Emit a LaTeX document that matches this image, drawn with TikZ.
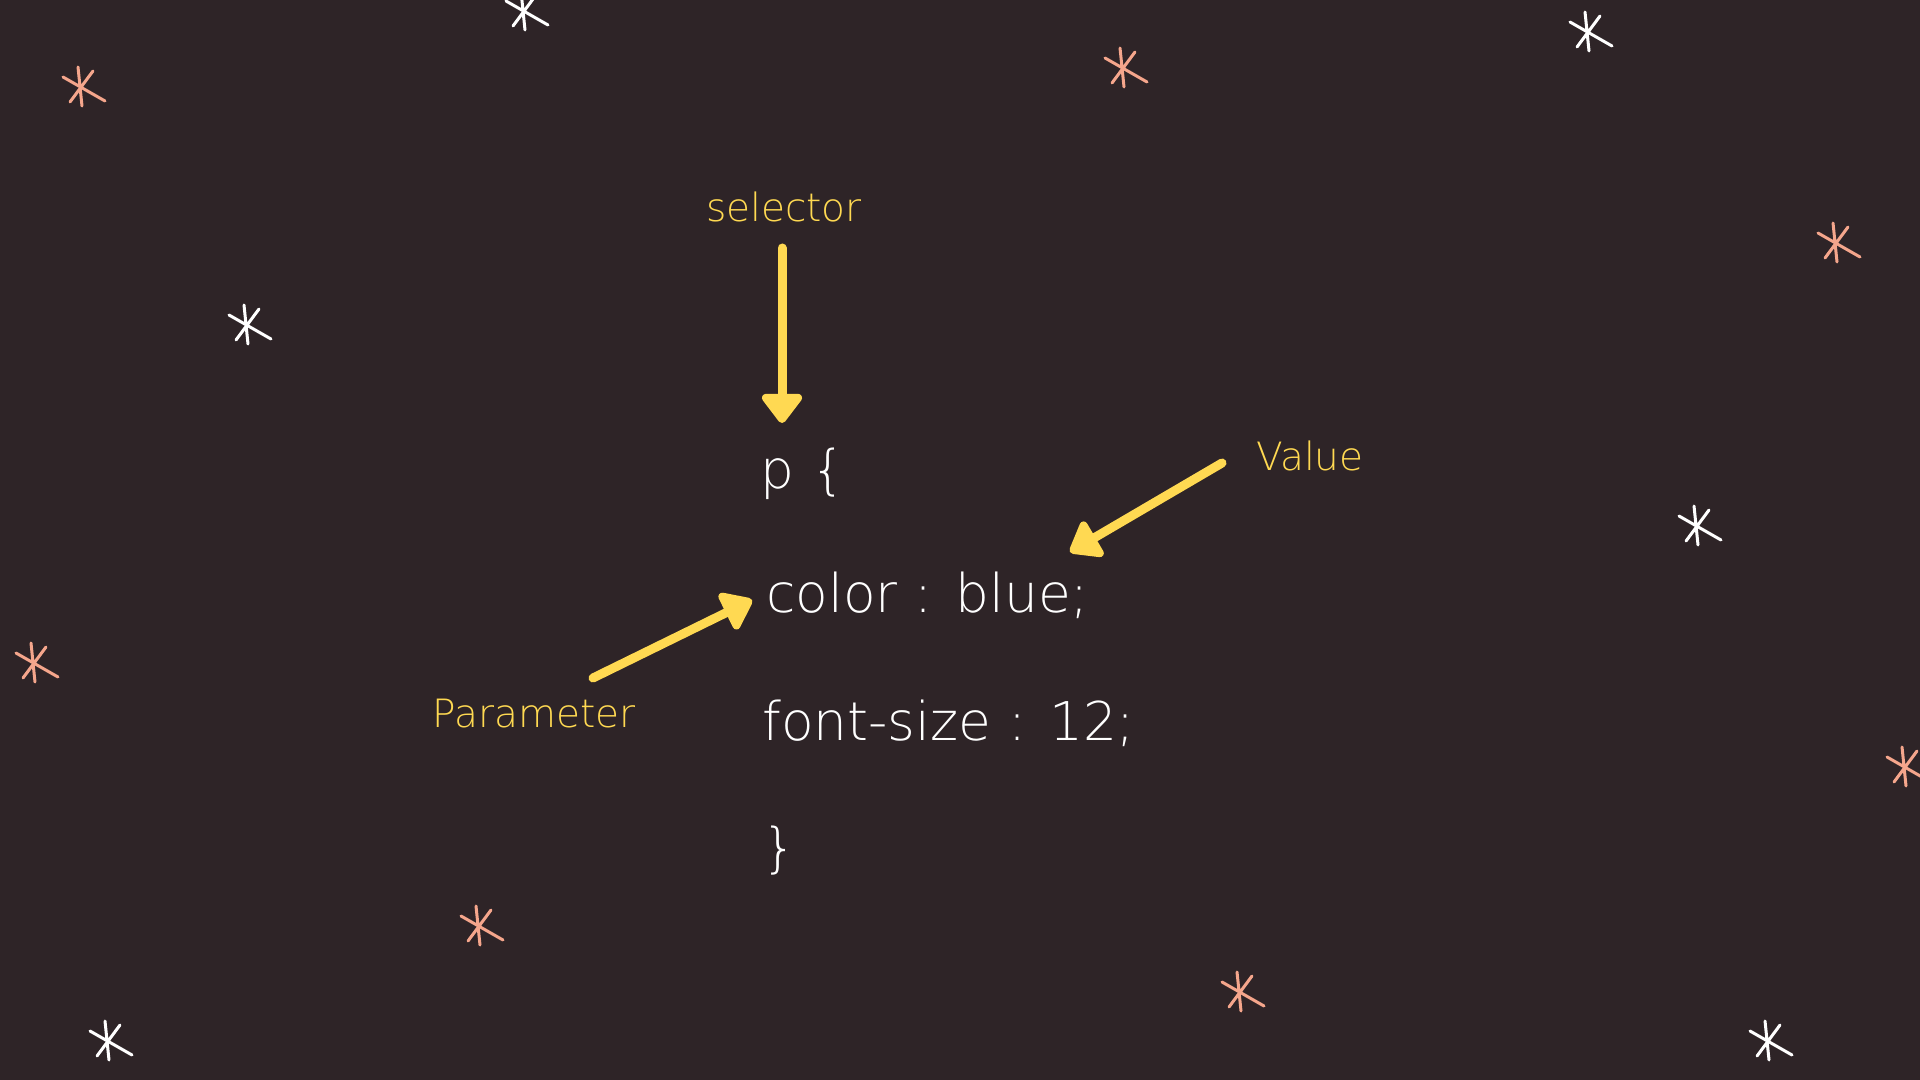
\documentclass[tikz,border=0pt]{standalone}
\usepackage{fontspec}
\newfontfamily\hand{DejaVu Sans ExtraLight}
\usetikzlibrary{arrows.meta}
\definecolor{bg}{RGB}{46,36,39}
\definecolor{hl}{RGB}{255,217,82}
\definecolor{pinkstar}{RGB}{245,166,140}
\tikzset{
  code/.style={text=white, font=\hand\fontsize{26.7pt}{32pt}\selectfont, anchor=base west, inner sep=0pt},
  lbl/.style={text=hl, font=\hand\fontsize{19.5pt}{24pt}\selectfont, anchor=base, inner sep=0pt},
  pointer/.style={draw=hl, line width=4.5pt, line cap=round, -{Triangle[length=16pt,width=23pt,round]}},
  sparkle/.pic={\draw[pic actions] (-3,-21)--(1,18) (-18,-11)--(24,13) (12,-17)--(-11,14);},
  wstar/.style={draw=white, line width=1.5pt, line cap=round},
  pstar/.style={draw=pinkstar, line width=1.5pt, line cap=round},
}
\begin{document}
\begin{tikzpicture}[x=0.5pt,y=-0.5pt]
\useasboundingbox (0,0) rectangle (1920,1080);
\fill[bg] (0,0) rectangle (1920,1080);
% stars
\pic[wstar] at (524,12) {sparkle};
\pic[wstar] at (1588,33) {sparkle};
\pic[wstar] at (247,326) {sparkle};
\pic[wstar] at (1697,527) {sparkle};
\pic[wstar] at (108,1042) {sparkle};
\pic[wstar] at (1768,1042) {sparkle};
\pic[pstar] at (81,88) {sparkle};
\pic[pstar] at (1123,69) {sparkle};
\pic[pstar] at (1836,244) {sparkle};
\pic[pstar] at (34,664) {sparkle};
\pic[pstar] at (1905,768) {sparkle};
\pic[pstar] at (479,927) {sparkle};
\pic[pstar] at (1240,993) {sparkle};
% code
\node[code] (l1) at (760,488) {p \{};
\node[code] (l2) at (766,612) {color : blue;};
\node[code] (l3) at (762,740) {font-size : 12;};
\node[code] (l4) at (762,866) {\}};
% labels
\node[lbl] (sel) at (784,222) {selector};
\node[lbl] (par) at (534,727) {Parameter};
\node[lbl] (val) at (1310,470) {Value};
% arrows
\coordinate (selA) at (782,248);
\coordinate (selB) at (782,423);
\coordinate (parA) at (593,678);
\coordinate (parB) at (752,600);
\coordinate (valA) at (1222,463);
\coordinate (valB) at (1070,552);
\draw[pointer] (selA) -- (selB);
\draw[pointer] (parA) -- (parB);
\draw[pointer] (valA) -- (valB);
\end{tikzpicture}
\end{document}
